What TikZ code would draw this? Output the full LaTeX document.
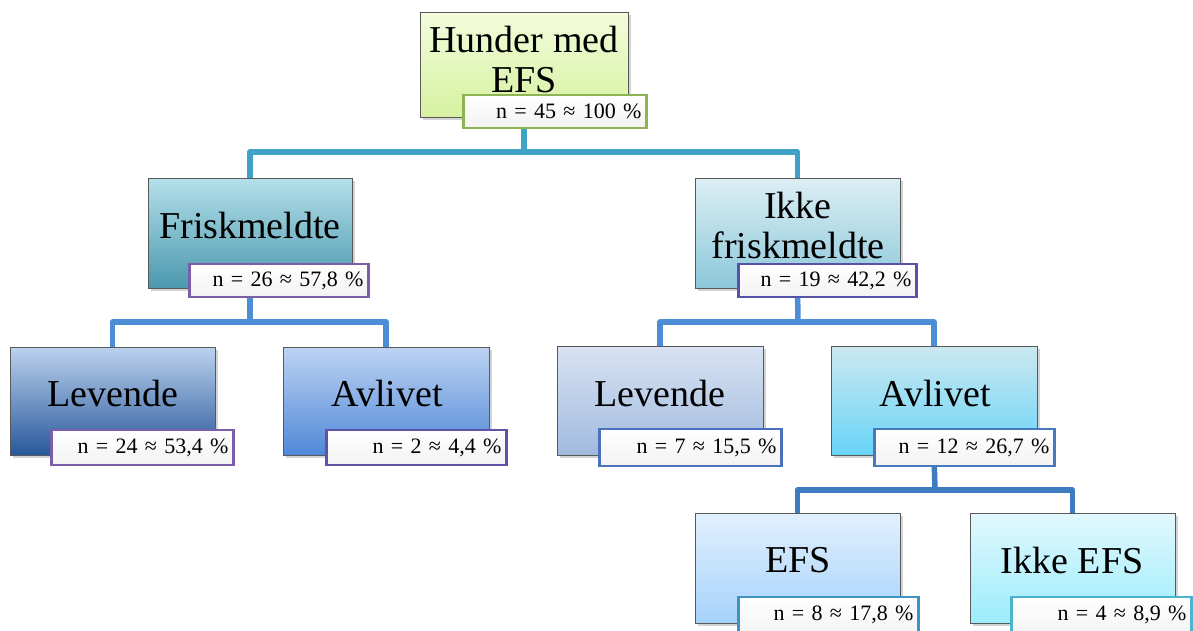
\documentclass[tikz,border=0pt]{standalone}
\usepackage{fontspec}
\setmainfont{Liberation Serif}
\usetikzlibrary{shadows,backgrounds}
\definecolor{cRoot1}{HTML}{F3FCDC}\definecolor{cRoot2}{HTML}{D6F2A0}
\definecolor{cFr1}{HTML}{B4E0EA}\definecolor{cFrM}{HTML}{92CDDC}\definecolor{cFr2}{HTML}{4B98AE}
\definecolor{cIk1}{HTML}{DCEEF4}\definecolor{cIk2}{HTML}{8CC8DA}
\definecolor{cLa1}{HTML}{BCD2EE}\definecolor{cLaM}{HTML}{5E93D8}\definecolor{cLa2}{HTML}{27589A}
\definecolor{cAa1}{HTML}{BDD3F2}\definecolor{cAa2}{HTML}{5088D8}
\definecolor{cLb1}{HTML}{D8E3F2}\definecolor{cLb2}{HTML}{A0BADF}
\definecolor{cAb1}{HTML}{CCE8F0}\definecolor{cAbM}{HTML}{8ED2E8}\definecolor{cAb2}{HTML}{68D4F8}
\definecolor{cE1}{HTML}{E2F0FD}\definecolor{cE2}{HTML}{A6D2FB}
\definecolor{cIE1}{HTML}{E2F8FD}\definecolor{cIE2}{HTML}{9CEDFC}
\definecolor{bGreen}{HTML}{8DB354}
\definecolor{bPurple}{HTML}{7B5EAA}
\definecolor{bIndigo}{HTML}{5552A8}
\definecolor{bBlue}{HTML}{4A72BC}
\definecolor{bTeal}{HTML}{3F92C4}
\definecolor{bCyan}{HTML}{4CB3CF}
\definecolor{conA}{HTML}{40A2C6}
\definecolor{conB}{HTML}{4B8ED6}
\definecolor{conC}{HTML}{3E7CC2}
\begin{document}
\begin{tikzpicture}[x=1pt,y=-1pt,
  box/.style={draw=black!65, line width=0.6pt, inner sep=0pt,
    drop shadow={shadow xshift=2.5pt,shadow yshift=-3pt,opacity=0.35}},
  lbl/.style={draw=#1, line width=2.6pt, minimum height=33pt, inner xsep=5pt, inner ysep=0pt,
    top color=white, bottom color=black!5, align=right,
    font=\fontsize{22}{24}\selectfont},
  big/.style={font=\fontsize{38}{40}\selectfont, align=center, inner sep=0pt},
  conn/.style={line width=5.5pt, draw=#1, line join=round, line cap=butt}
]
\clip (0,0) rectangle (1193,630);
% boxes
\node[box, minimum width=208pt, minimum height=105pt, top color=cRoot1, bottom color=cRoot2] (root) at (524,64.5) {};
\node[box, minimum width=204pt, minimum height=110pt, top color=cFr1, middle color=cFrM, bottom color=cFr2] (fr) at (250,233) {};
\node[box, minimum width=205pt, minimum height=110pt, top color=cIk1, bottom color=cIk2] (ik) at (797.5,233) {};
\node[box, minimum width=205pt, minimum height=108pt, top color=cLa1, middle color=cLaM, bottom color=cLa2] (la) at (112.5,401) {};
\node[box, minimum width=206pt, minimum height=108pt, top color=cAa1, bottom color=cAa2] (aa) at (386,401) {};
\node[box, minimum width=206pt, minimum height=109pt, top color=cLb1, bottom color=cLb2] (lb) at (660,400.5) {};
\node[box, minimum width=206pt, minimum height=109pt, top color=cAb1, middle color=cAbM, bottom color=cAb2] (ab) at (934,400.5) {};
\node[box, minimum width=205pt, minimum height=110pt, top color=cE1, bottom color=cE2] (efs) at (797.5,568) {};
\node[box, minimum width=205pt, minimum height=110pt, top color=cIE1, bottom color=cIE2] (iefs) at (1072.5,568) {};
% main texts
\node[big] (rootT) at (524,59) {Hunder med\\EFS};
\node[big] (frT) at (250,225) {Friskmeldte};
\node[big] (ikT) at (798,225) {Ikke\\friskmeldte};
\node[big] (laT) at (113,393) {Levende};
\node[big] (aaT) at (387,393) {Avlivet};
\node[big] (lbT) at (660,393) {Levende};
\node[big] (abT) at (935,393) {Avlivet};
\node[big] (efsT) at (798,560) {EFS};
\node[big] (iefsT) at (1072,560) {Ikke EFS};
% count labels
\node[lbl=bGreen, text width=173pt] (rootL) at (555,111.5) {n = 45 ≈ 100 \%};
\node[lbl=bPurple, text width=169pt] (frL) at (279,280.5) {n = 26 ≈ 57,8 \%};
\node[lbl=bIndigo, text width=168pt] (ikL) at (827.5,280.5) {n = 19 ≈ 42,2 \%};
\node[lbl=bPurple, text width=172pt, minimum height=35pt] (laL) at (142.5,447.5) {n = 24 ≈ 53,4 \%};
\node[lbl=bIndigo!80!bPurple, text width=170pt, minimum height=35pt] (aaL) at (416.5,447.5) {n = 2 ≈ 4,4 \%};
\node[lbl=bBlue, text width=172pt, minimum height=37pt] (lbL) at (690.5,447.5) {n = 7 ≈ 15,5 \%};
\node[lbl=bBlue!80!bTeal, text width=170pt, minimum height=37pt] (abL) at (964.5,447.5) {n = 12 ≈ 26,7 \%};
\node[lbl=bTeal, text width=170pt, minimum height=40pt, text depth=8pt] (efsL) at (828.5,617) {n = 8 ≈ 17,8 \%};
\node[lbl=bCyan, text width=170pt, minimum height=40pt, text depth=8pt] (iefsL) at (1101.5,617) {n = 4 ≈ 8,9 \%};
% connectors
\coordinate (j1) at (524,152);
\coordinate (j2) at (250,322);
\coordinate (j3) at (798,322);
\coordinate (j4) at (935,490);
\begin{scope}[on background layer]
\draw[conn=conA] (root.south) -- (j1);
\draw[conn=conA] (fr.north) |- (j1) -| (ik.north);
\draw[conn=conB] (fr.south) -- (j2);
\draw[conn=conB] (la.north) |- (j2) -| (aa.north);
\draw[conn=conB] (ik.south) -- (j3);
\draw[conn=conB] (lb.north) |- (j3) -| (ab.north);
\draw[conn=conC] (ab.south) -- (j4);
\draw[conn=conC] (efs.north) |- (j4) -| (iefs.north);
\end{scope}
\end{tikzpicture}
\end{document}
